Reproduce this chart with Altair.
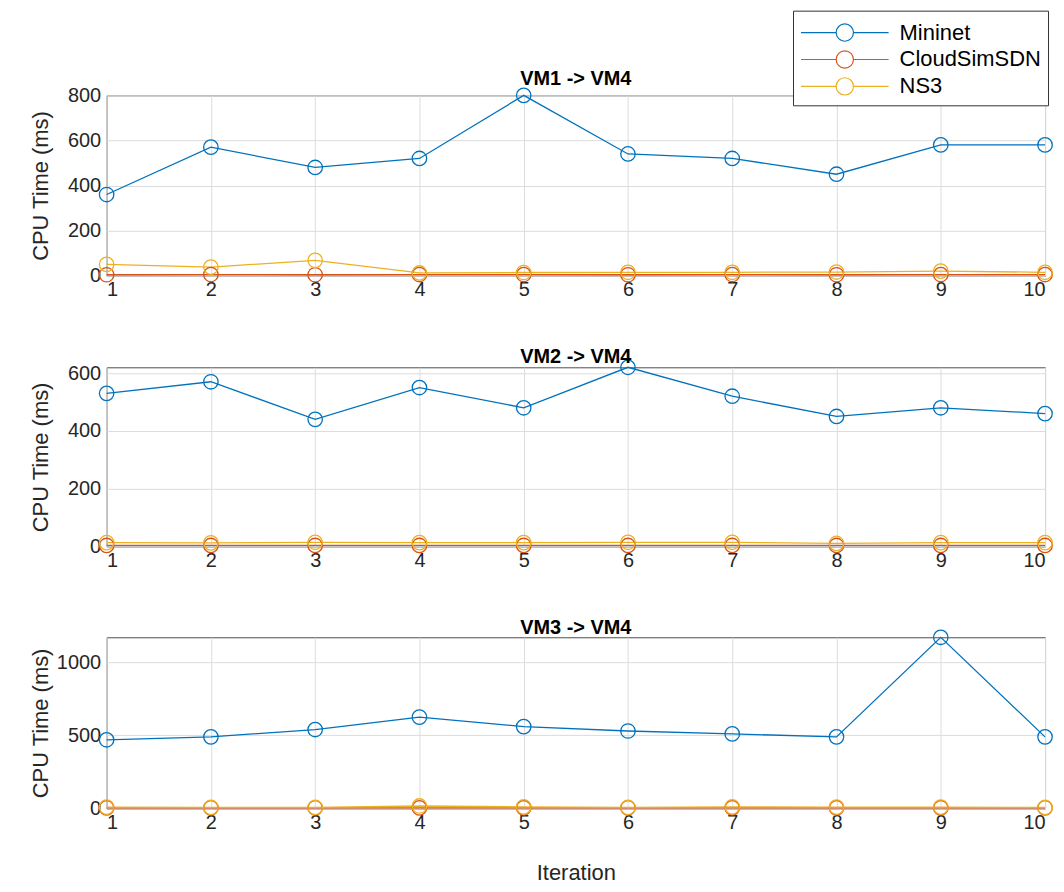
import altair as alt
import pandas as pd

iterations = [1, 2, 3, 4, 5, 6, 7, 8, 9, 10]
series_names = ["Mininet", "CloudSimSDN", "NS3"]
series_colors = ["#0072BD", "#D95319", "#EDB120"]
panel_titles = ["VM1 -> VM4", "VM2 -> VM4", "VM3 -> VM4"]

vm1_mininet = [360, 570, 480, 520, 800, 540, 520, 450, 580, 580]
vm1_cloudsim = [4, 5, 4, 5, 5, 4, 5, 4, 5, 5]
vm1_ns3 = [50, 38, 68, 12, 14, 15, 15, 16, 20, 15]

vm2_mininet = [530, 570, 440, 550, 480, 620, 520, 450, 480, 460]
vm2_cloudsim = [4, 4, 4, 4, 4, 4, 4, 4, 4, 4]
vm2_ns3 = [14, 13, 15, 14, 14, 15, 15, 11, 14, 14]

vm3_mininet = [470, 490, 540, 625, 560, 530, 510, 490, 1170, 490]
vm3_cloudsim = [5, 5, 5, 5, 5, 5, 5, 5, 5, 5]
vm3_ns3 = [10, 8, 8, 18, 12, 8, 12, 10, 10, 8]

y_max = [800, 620, 1170]
y_ticks = [[0, 200, 400, 600, 800], [0, 200, 400, 600], [0, 500, 1000]]
heights = [181, 180, 172]
title_offsets = [-4, -10, -11]

panel_series = [
    [vm1_mininet, vm1_cloudsim, vm1_ns3],
    [vm2_mininet, vm2_cloudsim, vm2_ns3],
    [vm3_mininet, vm3_cloudsim, vm3_ns3],
]

rows = []
for p, title in enumerate(panel_titles):
    for s, name in enumerate(series_names):
        for it, v in zip(iterations, panel_series[p][s]):
            rows.append({"panel": title, "series": name, "order": s, "iteration": it, "value": v})
df = pd.DataFrame(rows)

FONT = "Liberation Sans"
legend_path = "M-3.14,0L-0.62,0M0.62,0L3.14,0M0.62,0A0.62,0.62,0,1,1,-0.62,0A0.62,0.62,0,1,1,0.62,0"


def panel(i, last):
    sub = df[df["panel"] == panel_titles[i]]
    if last:
        x_axis = alt.Axis(values=iterations, format="d", title="Iteration", titleY=64,
                          titleBaseline="middle")
    else:
        x_axis = alt.Axis(values=iterations, format="d", title=None)
    y_axis = alt.Axis(values=y_ticks[i], format="d", title="CPU Time (ms)", titleX=-66,
                      titleY=heights[i] / 2, titleAlign="center", titleBaseline="middle",
                      titleAngle=270)
    return (
        alt.Chart(sub)
        .mark_line(strokeWidth=1.3,
                   point=alt.OverlayMarkDef(filled=False, size=210, strokeWidth=1.3))
        .encode(
            x=alt.X("iteration:Q", scale=alt.Scale(domain=[1, 10], nice=False, zero=False),
                    axis=x_axis),
            y=alt.Y("value:Q", scale=alt.Scale(domain=[0, y_max[i]], nice=False),
                    axis=y_axis),
            color=alt.Color("series:N",
                            scale=alt.Scale(domain=series_names, range=series_colors),
                            legend=alt.Legend(title=None)),
            order=alt.Order("order:Q"),
        )
        .properties(
            width=942,
            height=heights[i],
            title=alt.TitleParams(panel_titles[i], fontSize=20, fontWeight="bold",
                                  font=FONT, anchor="middle", offset=title_offsets[i],
                                  color="black"),
        )
    )


chart = (
    alt.vconcat(panel(0, False), panel(1, False), panel(2, True), spacing=46)
    .properties(padding={"left": 21, "top": 0, "right": 0, "bottom": 0})
    .configure_view(stroke="#4d4d4d", strokeWidth=1)
    .configure_axis(
        labelFont=FONT, titleFont=FONT, labelFontSize=20, titleFontSize=22,
        labelColor="#262626", titleColor="#262626", titleFontWeight="normal",
        ticks=False, domain=False, grid=True, gridColor="#dcdcdc", gridWidth=1,
    )
    .configure_axisX(labelPadding=4)
    .configure_axisY(labelPadding=6)
    .configure_legend(
        orient="none", legendX=689, legendY=-85,
        fillColor="white", strokeColor="#333333", padding=7, cornerRadius=0,
        symbolType=legend_path, symbolSize=784, symbolOffset=30, labelOffset=40,
        symbolStrokeWidth=1.2, symbolFillColor="transparent",
        labelFont=FONT, labelFontSize=22, labelColor="#000000", rowPadding=0,
    )
)

chart.save("out.html", embed_options={"renderer": "svg", "actions": False})
